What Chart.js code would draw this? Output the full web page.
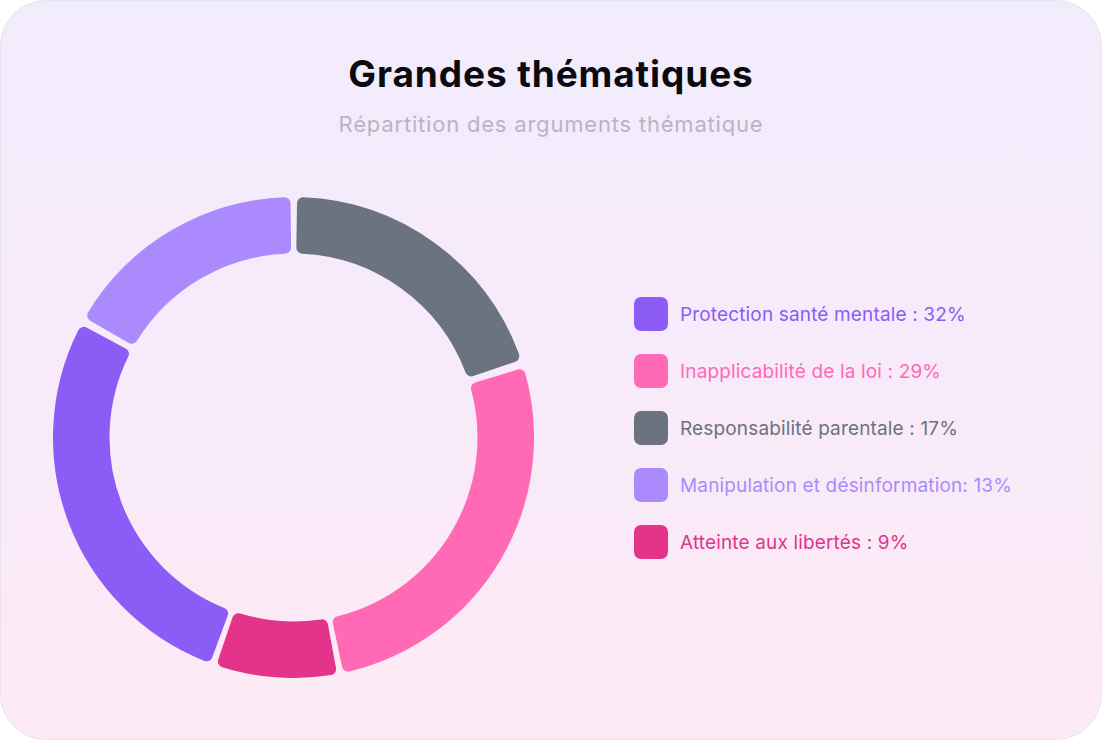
<!DOCTYPE html>
<html lang="fr">
<head>
<meta charset="utf-8">
<title>Grandes thématiques</title>
<script src="https://cdn.jsdelivr.net/npm/chart.js@4.4.1/dist/chart.umd.min.js"></script>
<style>
    html, body {
        margin: 0;
        padding: 0;
        background: #ffffff;
        font-family: 'Inter', 'Noto Sans', sans-serif;
    }
    .card {
        position: relative;
        width: 1100px;
        height: 738px;
        border: 1px solid #e6e4ee;
        border-radius: 46px;
        background: linear-gradient(180deg, #f1ecfc 0%, #f8eafa 50%, #fdeaf4 100%);
        overflow: hidden;
    }
    h1 {
        position: absolute;
        top: 50px;
        left: 0;
        width: 100%;
        margin: 0;
        text-align: center;
        font-size: 37px;
        font-weight: 700;
        letter-spacing: 0.9px;
        color: #0b0b0f;
    }
    .subtitle {
        position: absolute;
        top: 110px;
        left: 0;
        width: 100%;
        text-align: center;
        font-size: 22px;
        letter-spacing: 0.8px;
        color: #b9b4c3;
    }
    .chart-box {
        position: absolute;
        left: 52px;
        top: 196px;
        width: 481px;
        height: 481px;
    }
    #legend {
        position: absolute;
        left: 633px;
        top: 296px;
        margin: 0;
        padding: 0;
        list-style: none;
    }
    #legend li {
        display: flex;
        align-items: center;
        height: 34px;
        margin-bottom: 23px;
        font-size: 19px;
        letter-spacing: 0.15px;
    }
    #legend span.box {
        width: 34px;
        height: 34px;
        border-radius: 7px;
        margin-right: 12px;
    }
</style>
</head>
<body>
<div class="card">
    <h1>Grandes thématiques</h1>
    <div class="subtitle">Répartition des arguments thématique</div>
    <div class="chart-box"><canvas id="themesChart"></canvas></div>
    <ul id="legend"></ul>
</div>
<script>
// Segments, clockwise from the top of the ring
const categories = ['Responsabilité parentale', 'Inapplicabilité de la loi', 'Atteinte aux libertés', 'Protection santé mentale', 'Manipulation et désinformation'];
const values = [20, 27, 8.3, 27.8, 16.9];
const sliceColors = ['#6b7280', '#ff69b6', '#e3338b', '#8b5cf6', '#ab8afd'];

// Legend, as written on the card
const legendLabels = ['Protection santé mentale : 32%', 'Inapplicabilité de la loi : 29%', 'Responsabilité parentale : 17%', 'Manipulation et désinformation: 13%', 'Atteinte aux libertés : 9%'];
const legendColors = ['#8b5cf6', '#ff69b6', '#6b7280', '#ab8afd', '#e3338b'];

document.addEventListener('DOMContentLoaded', function() {
    initializeThemesChart();
    buildLegend();
});

function initializeThemesChart() {
    const ctx = document.getElementById('themesChart').getContext('2d');
    new Chart(ctx, {
        type: 'doughnut',
        data: {
            labels: categories,
            datasets: [{
                data: values,
                backgroundColor: sliceColors,
                borderWidth: 0,
                borderRadius: 6,
                spacing: 10
            }]
        },
        options: {
            responsive: true,
            maintainAspectRatio: false,
            animation: false,
            cutout: '76%',
            layout: { padding: 0 },
            plugins: {
                legend: { display: false },
                tooltip: { enabled: false }
            }
        }
    });
}

function buildLegend() {
    const list = document.getElementById('legend');
    legendLabels.forEach(function(text, i) {
        const item = document.createElement('li');
        const box = document.createElement('span');
        box.className = 'box';
        box.style.background = legendColors[i];
        const label = document.createElement('span');
        label.textContent = text;
        label.style.color = legendColors[i];
        item.appendChild(box);
        item.appendChild(label);
        list.appendChild(item);
    });
}
</script>
</body>
</html>
